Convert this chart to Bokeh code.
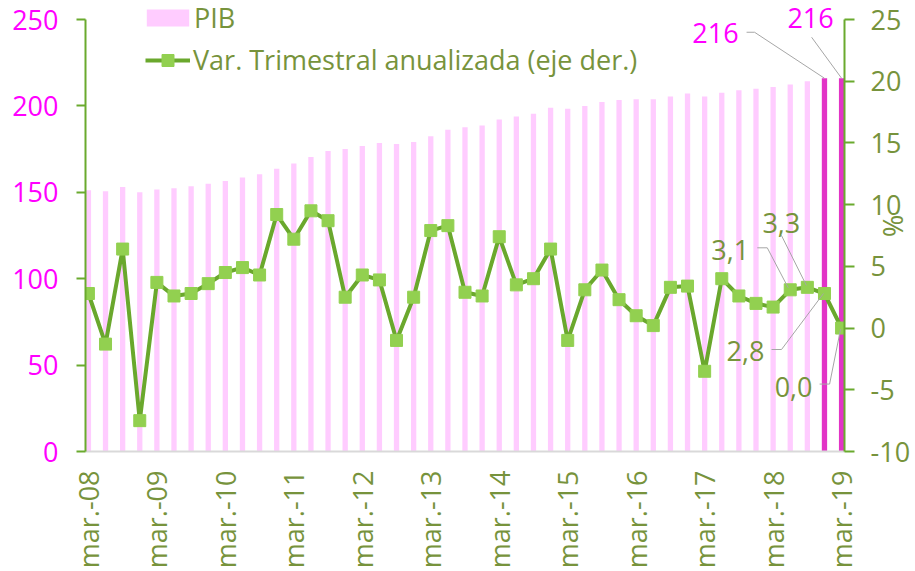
import numpy as np
from bokeh.plotting import figure
from bokeh.models import (Range1d, LinearAxis, FixedTicker, Legend, LegendItem, Label)
from bokeh.embed import file_html
from bokeh.resources import INLINE

# ---------------- data ----------------
tick_labels = ["mar.-08", "mar.-09", "mar.-10", "mar.-11", "mar.-12", "mar.-13",
               "mar.-14", "mar.-15", "mar.-16", "mar.-17", "mar.-18", "mar.-19"]
quarters = list(range(45))  # mar.-08 ... mar.-19, quarterly

pib = [151.2, 150.6, 153.1, 150.0, 151.6, 152.3, 153.5, 155.0,
       156.5, 158.5, 160.4, 163.7, 166.6, 170.4, 173.9, 175.0,
       176.8, 178.5, 177.9, 179.1, 182.5, 186.2, 187.6, 188.7,
       192.2, 193.8, 195.5, 199.0, 198.4, 199.9, 202.2, 203.4,
       203.8, 203.8, 205.5, 207.2, 205.5, 207.6, 209.0, 209.9,
       210.9, 212.4, 214.2, 216.0, 216.0]

var_trim = [2.8, -1.3, 6.4, -7.5, 3.7, 2.6, 2.8, 3.6,
            4.5, 4.9, 4.3, 9.2, 7.2, 9.5, 8.7, 2.5,
            4.3, 3.9, -1.0, 2.5, 7.9, 8.3, 2.9, 2.6,
            7.4, 3.5, 4.0, 6.4, -1.0, 3.1, 4.7, 2.3,
            1.0, 0.2, 3.3, 3.4, -3.5, 4.0, 2.6, 2.0,
            1.7, 3.1, 3.3, 2.8, 0.0]

left_ticks = [0, 50, 100, 150, 200, 250]
right_ticks = [-10, -5, 0, 5, 10, 15, 20, 25]

# ---------------- style ----------------
PINK = "#FFCCFF"
MAGENTA_BAR = "#E233C6"
OLIVE = "#77933C"
MAG_TEXT = "#FF00FF"
LINE_GREEN = "#6AA82D"
MARKER_GREEN = "#92D050"
AXIS_GREEN = "#6AAA2E"
GRAY = "#D9D9D9"
LEADER = "#A6A6A6"
FONT = "Open Sans"
FS = "27px"

W, H = 915, 571
BL, BR, BB = 85, 70, 120
TOP_PAD = 19                      # free room above the axes' top, kept inside the frame
FW, FH = W - BL - BR, H - BB
X0, X1 = -0.17, 44.17
L0, L1 = 0, 250
R0, R1 = -10, 25
PX_X = FW / (X1 - X0)
PX_L = (FH - TOP_PAD) / (L1 - L0)
PX_R = (FH - TOP_PAD) / (R1 - R0)
L1E = L1 + TOP_PAD / PX_L
R1E = R1 + TOP_PAD / PX_R

p = figure(width=W, height=H, x_range=Range1d(X0, X1), y_range=Range1d(L0, L1E),
           output_backend="svg", toolbar_location=None,
           min_border_left=BL, min_border_right=BR, min_border_top=0, min_border_bottom=BB,
           outline_line_color=None, background_fill_color="white", border_fill_color="white")
p.extra_y_ranges = {"right": Range1d(R0, R1E)}
p.xgrid.visible = False
p.ygrid.visible = False

bar_colors = [PINK] * (len(pib) - 2) + [MAGENTA_BAR] * 2
bars = p.vbar(x=quarters, top=pib, width=0.31, fill_color=bar_colors, line_color=None)

line = p.line(quarters, var_trim, y_range_name="right", line_color=LINE_GREEN, line_width=4)
marks = p.scatter(quarters, var_trim, y_range_name="right", marker="square", size=12,
                  fill_color=MARKER_GREEN, line_color=MARKER_GREEN)

# ---------------- axes ----------------
xt = list(range(0, 45, 4))
xa = p.xaxis[0]
xa.ticker = FixedTicker(ticks=xt)
xa.major_label_overrides = {t: lab for t, lab in zip(xt, tick_labels)}
xa.major_label_orientation = np.pi / 2
xa.major_tick_out = 0
xa.major_tick_in = 0
xa.minor_tick_out = 0
xa.minor_tick_in = 0
xa.axis_line_color = GRAY
xa.axis_line_width = 2
xa.major_label_text_color = OLIVE
xa.major_label_text_font = FONT
xa.major_label_text_font_size = FS
xa.major_label_standoff = 19

ya = p.yaxis[0]
ya.ticker = FixedTicker(ticks=left_ticks)
ya.bounds = (L0, L1)
ya.major_tick_out = 9
ya.major_tick_in = 0
ya.minor_tick_out = 0
ya.minor_tick_in = 0
ya.axis_line_color = AXIS_GREEN
ya.axis_line_width = 2
ya.major_tick_line_color = AXIS_GREEN
ya.major_tick_line_width = 2
ya.major_label_text_color = MAG_TEXT
ya.major_label_text_font = FONT
ya.major_label_text_font_size = FS
ya.major_label_standoff = 18

ra = LinearAxis(y_range_name="right", ticker=FixedTicker(ticks=right_ticks), bounds=(R0, R1))
ra.major_label_overrides = {t: str(t) for t in right_ticks}
ra.major_tick_out = 10
ra.major_tick_in = 0
ra.minor_tick_out = 0
ra.minor_tick_in = 0
ra.axis_line_color = AXIS_GREEN
ra.axis_line_width = 2
ra.major_tick_line_color = AXIS_GREEN
ra.major_tick_line_width = 2
ra.major_label_text_color = OLIVE
ra.major_label_text_font = FONT
ra.major_label_text_font_size = FS
ra.major_label_standoff = 16
ra.axis_label = "%"
ra.axis_label_standoff = -38
ra.axis_label_text_color = OLIVE
ra.axis_label_text_font = FONT
ra.axis_label_text_font_size = FS
ra.axis_label_text_font_style = "normal"
p.add_layout(ra, "right")

# ---------------- leader lines & data labels ----------------
def leader(i, yv, pts, py):
    xs = [i + dx / PX_X for dx, dy in pts]
    ys = [yv - dy / py for dx, dy in pts]
    return xs, ys

pib_lead = [(43, [(-78, -46), (-70, -46), (0, 0)]), (44, [(-30, -41), (0, 0)])]
var_lead = [(41, [(-33, -42), (-23, -42), (-2, -2)]), (42, [(-26, -52), (-1, -2)]),
            (43, [(-53, 56), (-43, 56), (-1, 0)]), (44, [(-22, 56), (-12, 56), (-1, 1)])]

lx, ly = zip(*[leader(i, pib[i], pts, PX_L) for i, pts in pib_lead])
p.multi_line(xs=list(lx), ys=list(ly), line_color=LEADER, line_width=1)
vx, vy = zip(*[leader(i, var_trim[i], pts, PX_R) for i, pts in var_lead])
p.multi_line(xs=list(vx), ys=list(vy), line_color=LEADER, line_width=1, y_range_name="right")

pib_lab = [(43, -109, 45), (44, -31, 60)]
for i, dx, dy in pib_lab:
    p.add_layout(Label(x=quarters[i], y=pib[i], x_offset=dx, y_offset=dy, text=f"{pib[i]:.0f}",
                       text_align="center", text_baseline="middle", text_color=MAG_TEXT,
                       text_font=FONT, text_font_size=FS))

var_lab = [(41, -60, 40), (42, -26, 64), (43, -79, -57), (44, -48, -59)]
for i, dx, dy in var_lab:
    p.add_layout(Label(x=quarters[i], y=var_trim[i], y_range_name="right", x_offset=dx, y_offset=dy,
                       text=f"{var_trim[i]:.1f}".replace(".", ","),
                       text_align="center", text_baseline="middle", text_color=OLIVE,
                       text_font=FONT, text_font_size=FS))

# ---------------- legends ----------------
def make_legend(items, loc, gw, gh, standoff):
    return Legend(items=items, location=loc, orientation="vertical",
                  glyph_width=gw, glyph_height=gh, label_height=gh, label_standoff=standoff,
                  label_text_color=OLIVE, label_text_font=FONT, label_text_font_size=FS,
                  padding=0, margin=0, spacing=0, border_line_alpha=0,
                  background_fill_alpha=0)

leg1 = make_legend([LegendItem(label="PIB", renderers=[bars], index=0)], (56, 415), 53, 21, 0)
leg2 = make_legend([LegendItem(label="Var. Trimestral anualizada (eje der.)", renderers=[line, marks])],
                   (60, 373), 45, 30, 3)
p.add_layout(leg1)
p.add_layout(leg2)

open("out.html", "w").write(file_html(p, INLINE))
